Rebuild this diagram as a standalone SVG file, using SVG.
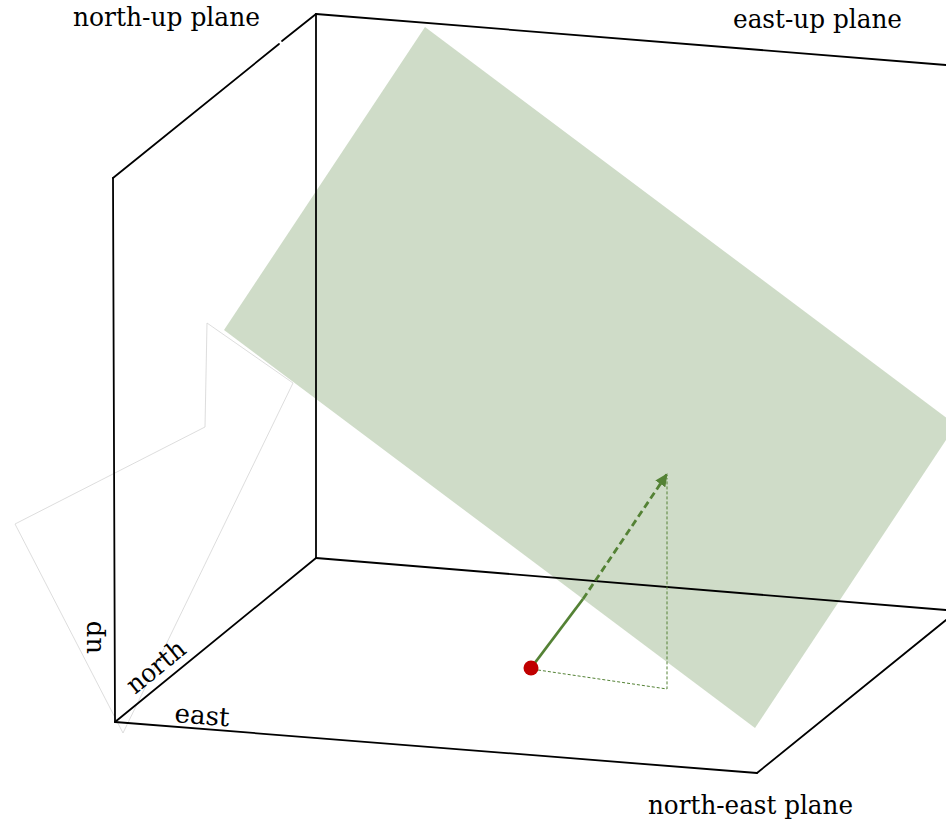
<svg xmlns="http://www.w3.org/2000/svg" width="946" height="822" viewBox="0 0 946 822">
<style>
.frame{stroke:#000;stroke-width:1.8;fill:none;stroke-linecap:round}
.faint{stroke:#d4d4d4;stroke-width:0.8;fill:none}
.lbl{font-family:"DejaVu Serif","Liberation Serif",serif;font-size:26px;fill:#000}
.vec{stroke:#548235;stroke-width:2.8;fill:none}
.proj{stroke:#548235;stroke-width:1;fill:none;stroke-dasharray:3 2}
</style>
<defs>
<marker id="ah" markerWidth="13" markerHeight="13" viewBox="0 0 13 13" refX="12" refY="6.5" orient="auto" markerUnits="userSpaceOnUse">
<path d="M0,0.5 L13,6.5 L0,12.5 z" fill="#548235"/>
</marker>
</defs>
<rect width="946" height="822" fill="#fff"/>
<g id="faint-plane">
<polyline class="faint" points="205,427 207,323 293,383 123,733 15,524 205,427"/>
</g>
<g id="tilted-plane">
<polygon points="425,27 956,425 755,728 224,330" fill="#cfdcc8"/>
</g>
<g id="connectors">
<line class="frame" x1="115" y1="722" x2="113" y2="178"/>
<line class="frame" x1="113" y1="178" x2="279" y2="44"/>
<line class="frame" x1="282" y1="41" x2="316" y2="14"/>
<line class="frame" x1="316" y1="14" x2="316" y2="558"/>
<line class="frame" x1="316" y1="14" x2="946" y2="65"/>
<line class="frame" x1="115" y1="722" x2="316" y2="558"/>
<line class="frame" x1="316" y1="558" x2="946" y2="610"/>
<line class="frame" x1="115" y1="722" x2="757" y2="773"/>
<line class="frame" x1="757" y1="773" x2="946" y2="620"/>
</g>
<g id="vector">
<polyline class="proj" points="538,670 667,689 667,478"/>
<line class="vec" x1="531" y1="668" x2="583" y2="599"/>
<line class="vec" x1="583" y1="599" x2="667" y2="474" stroke-dasharray="7 4" marker-end="url(#ah)"/>
<circle cx="531" cy="668" r="7.5" fill="#c00000"/>
</g>
<g id="labels">
<text class="lbl" x="73" y="26" textLength="187" lengthAdjust="spacingAndGlyphs">north-up plane</text>
<text class="lbl" x="733" y="28" textLength="169" lengthAdjust="spacingAndGlyphs">east-up plane</text>
<text class="lbl" x="648" y="814" textLength="205" lengthAdjust="spacingAndGlyphs">north-east plane</text>
<text class="lbl" transform="translate(174,722) rotate(4.5)" textLength="55" lengthAdjust="spacingAndGlyphs">east</text>
<text class="lbl" transform="translate(135,695) rotate(-39.2)" textLength="68" lengthAdjust="spacingAndGlyphs">north</text>
<text class="lbl" transform="translate(101,654) rotate(-90)">up</text>
</g>
</svg>
